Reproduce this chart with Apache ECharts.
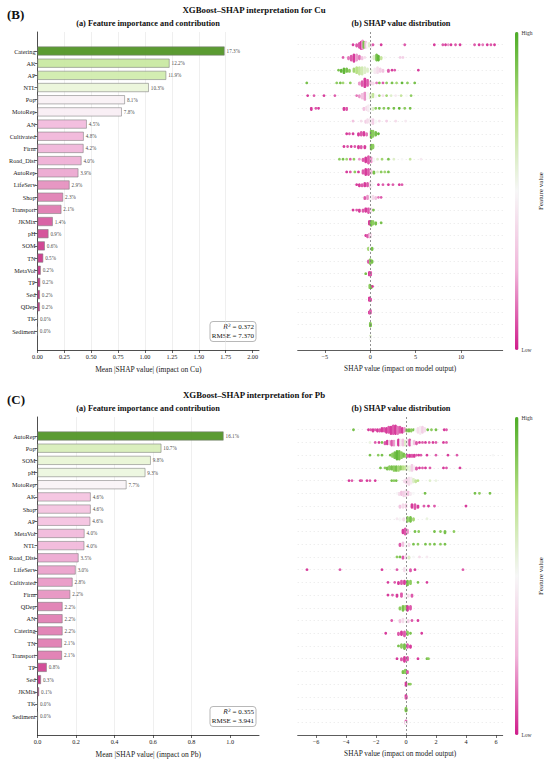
<!DOCTYPE html>
<html><head><meta charset="utf-8">
<script src="https://cdn.jsdelivr.net/npm/echarts@6/dist/echarts.min.js"></script>
<style>html,body{margin:0;padding:0;background:#fff}#c{width:550px;height:763px}</style>
</head><body><div id="c"></div>
<script>
// ---------------- DATA ----------------
const cuFeatures = ['Catering','AK','AP','NTL','Pop','MotoRep','AN','Cultivated','Firm','Road_Dist','AutoRep','LifeServ','Shop','Transport','JKMix','pH','SOM','TN','MetaVol','TP','Sed','QDep','TK','Sediment'];
const cuImportance = [1.74,1.228,1.197,1.035,0.813,0.784,0.458,0.43,0.428,0.409,0.38,0.298,0.238,0.222,0.142,0.102,0.068,0.053,0.03,0.025,0.022,0.022,0.002,0.001];
const cuPctLabels = ['17.3%','12.2%','11.9%','10.3%','8.1%','7.8%','4.5%','4.8%','4.2%','4.0%','3.9%','2.9%','2.3%','2.1%','1.4%','0.9%','0.6%','0.5%','0.2%','0.2%','0.2%','0.2%','0.0%','0.0%'];
const cuImpTicks = [0,0.25,0.5,0.75,1.0,1.25,1.5,1.75,2.0];
const cuShapTicks = [-5,0,5,10];
// per feature row: [SHAP value, normalised feature value, number of stacked dots]
const cuSwarmRows = [
 [[-1.9,0.05,1],[-1.5,0.1,2],[-1.2,0.1,4],[-1.0,0.05,6],[-0.85,0.2,7],[-0.7,0.9,5],[-0.5,0.3,5],[-0.3,0.5,4],[-0.1,0.6,3],[0.1,0.4,2],[0.3,0.1,1],[1.2,0.05,1],[3.8,0.1,1],[7.06,0.05,1],[8.0,0.1,1],[8.3,0.05,1],[8.6,0.2,1],[8.9,0.05,1],[9.4,0.1,1],[9.9,0.05,1],[11.5,0.1,1],[12.0,0.05,1],[12.4,0.15,1],[12.9,0.05,1],[13.3,0.1,1],[13.7,0.05,1]],
 [[-3.0,0.1,1],[-2.4,0.15,2],[-2.1,0.1,4],[-1.8,0.05,6],[-1.5,0.2,5],[-1.2,0.15,3],[-0.9,0.3,2],[-0.6,0.4,1],[0.1,0.5,2],[0.4,0.6,3],[0.7,0.9,5],[0.9,0.95,4],[1.2,0.7,2],[1.6,0.5,1],[3.3,0.35,1],[3.6,0.35,1]],
 [[-3.5,0.9,1],[-3.2,0.95,2],[-2.9,0.95,4],[-2.6,0.9,3],[-2.3,0.85,2],[-1.8,0.8,3],[-1.5,0.75,5],[-1.2,0.7,6],[-0.9,0.65,6],[-0.6,0.6,5],[-0.3,0.6,3],[0.1,0.55,2],[0.5,0.45,4],[0.8,0.4,5],[1.1,0.35,3],[1.4,0.3,2],[2.0,0.1,2],[2.4,0.05,1],[2.7,0.1,1],[5.3,0.05,1]],
 [[-7.0,0.9,1],[-3.7,0.85,1],[-3.3,0.9,1],[-3.0,0.8,1],[-2.2,0.85,1],[-1.2,0.2,2],[-0.9,0.1,4],[-0.6,0.05,7],[-0.3,0.1,5],[0.0,0.3,3],[0.3,0.4,2],[0.7,0.15,1],[1.0,0.9,1],[1.4,0.1,1],[1.8,0.85,1],[2.4,0.9,1],[2.9,0.8,1],[3.5,0.95,1],[4.1,0.85,1],[4.9,0.9,1]],
 [[-6.9,0.05,1],[-6.2,0.1,1],[-5.1,0.05,1],[-3.9,0.1,1],[-1.5,0.15,1],[-1.2,0.2,2],[-0.9,0.3,4],[-0.6,0.2,6],[-0.3,0.5,5],[0.0,0.6,4],[0.3,0.7,3],[0.6,0.5,2],[1.0,0.8,1],[1.4,0.4,1],[1.8,0.8,1],[2.3,0.6,1],[2.8,0.45,1],[3.4,0.7,1],[4.0,0.5,1],[4.5,0.85,1]],
 [[-6.5,0.05,2],[-6.0,0.1,1],[-5.7,0.05,1],[-2.9,0.05,2],[-2.6,0.1,2],[-0.7,0.3,2],[-0.4,0.4,3],[-0.2,0.45,5],[0.0,0.5,4],[0.3,0.6,2],[0.6,0.85,1],[1.0,0.9,1],[1.5,0.85,1],[2.0,0.9,1],[2.6,0.9,1],[3.2,0.95,1],[3.8,0.85,1],[4.4,0.9,1]],
 [[-1.9,0.3,1],[-1.0,0.4,1],[-0.5,0.35,2],[-0.3,0.4,3],[0.0,0.45,5],[0.3,0.35,4],[0.6,0.5,2],[1.0,0.4,1],[1.8,0.35,1],[2.8,0.4,1],[3.9,0.45,1]],
 [[-2.6,0.05,1],[-2.3,0.1,1],[-1.9,0.05,1],[-1.3,0.05,2],[-1.0,0.1,3],[-0.7,0.05,3],[-0.4,0.15,2],[0.1,0.9,6],[0.3,0.85,5],[0.6,0.9,3],[0.9,0.95,1]],
 [[-2.9,0.05,1],[-2.5,0.1,1],[-2.1,0.05,1],[-1.7,0.1,1],[-1.3,0.05,2],[-1.0,0.1,2],[-0.6,0.05,2],[0.1,0.9,4],[0.3,0.85,3]],
 [[-3.4,0.85,1],[-3.0,0.9,1],[-2.6,0.8,1],[-2.2,0.1,1],[-1.8,0.85,1],[-1.2,0.2,1],[-0.8,0.1,2],[-0.5,0.05,4],[-0.2,0.1,6],[0.1,0.2,4],[0.4,0.5,2],[0.8,0.6,1],[1.3,0.8,1],[2.0,0.9,1],[2.6,0.6,1],[3.5,0.5,1],[4.4,0.7,1],[5.6,0.45,1]],
 [[-2.6,0.05,1],[-2.2,0.1,1],[-1.7,0.85,1],[-1.3,0.05,1],[-0.8,0.1,3],[-0.5,0.05,5],[-0.2,0.1,5],[0.1,0.3,3],[0.4,0.9,2],[0.8,0.6,1],[1.2,0.85,1],[1.6,0.8,1],[2.0,0.9,1]],
 [[-1.5,0.05,1],[-1.2,0.05,2],[-0.9,0.1,2],[-0.6,0.05,3],[-0.3,0.1,3],[0.0,0.4,5],[0.2,0.5,3],[0.9,0.05,1],[1.4,0.1,1],[2.0,0.05,1],[2.5,0.1,1],[3.2,0.05,1],[3.5,0.1,1]],
 [[-0.6,0.1,2],[-0.3,0.2,3],[0.0,0.5,5],[0.3,0.4,3],[0.6,0.3,2],[0.9,0.15,1],[1.2,0.1,1]],
 [[-1.9,0.05,1],[-1.5,0.1,1],[-1.2,0.05,2],[-0.8,0.1,2],[-0.5,0.05,3],[-0.2,0.1,4],[0.1,0.4,3],[0.35,0.9,1]],
 [[-0.1,0.05,3],[0.1,0.9,4],[0.3,0.85,3],[0.6,0.9,2],[1.2,0.9,1]],
 [[-0.5,0.05,1],[-0.3,0.1,2],[-0.1,0.2,3],[0.05,0.4,3]],
 [[-0.2,0.8,2],[0.0,0.5,4],[0.2,0.9,2]],
 [[-0.2,0.1,2],[0.0,0.85,4],[0.2,0.9,2]],
 [[-0.5,0.9,1],[-0.1,0.05,3],[0.05,0.1,3]],
 [[-0.05,0.85,3],[0.1,0.9,2],[0.25,0.05,1]],
 [[-0.1,0.05,3],[0.05,0.1,2]],
 [[-0.1,0.05,2],[0.02,0.1,3]],
 [[0.0,0.85,3],[0.02,0.9,2]],
 [[0.0,0.6,3],[0.01,0.5,2]]
];

const pbFeatures = ['AutoRep','Pop','SOM','pH','MotoRep','AK','Shop','AP','MetaVol','NTL','Road_Dist','LifeServ','Cultivated','Firm','QDep','AN','Catering','TN','Transport','TP','Sed','JKMix','TK','Sediment'];
const pbImportance = [0.966,0.643,0.588,0.560,0.462,0.276,0.276,0.274,0.244,0.243,0.213,0.198,0.182,0.170,0.130,0.130,0.130,0.127,0.127,0.048,0.018,0.008,0.001,0.001];
const pbPctLabels = ['16.1%','10.7%','9.8%','9.3%','7.7%','4.6%','4.6%','4.6%','4.0%','4.0%','3.5%','3.0%','2.8%','2.2%','2.2%','2.2%','2.2%','2.1%','2.1%','0.8%','0.3%','0.1%','0.0%','0.0%'];
const pbImpTicks = [0,0.2,0.4,0.6,0.8,1.0];
const pbShapTicks = [-6,-4,-2,0,2,4,6];
const pbSwarmRows = [
 [[-3.5,0.9,1],[-2.5,0.05,1],[-2.35,0.1,1],[-2.2,0.05,2],[-2.05,0.1,1],[-1.9,0.05,2],[-1.75,0.1,2],[-1.6,0.05,3],[-1.45,0.1,3],[-1.3,0.05,4],[-1.15,0.1,5],[-1.0,0.05,6],[-0.85,0.1,7],[-0.7,0.05,7],[-0.55,0.15,6],[-0.4,0.1,5],[-0.25,0.05,4],[-0.1,0.2,3],[0.05,0.85,2],[0.2,0.9,2],[0.35,0.85,2],[0.5,0.9,1],[0.65,0.5,2],[0.8,0.4,4],[0.95,0.45,6],[1.1,0.35,5],[1.25,0.4,3],[1.45,0.9,1],[1.7,0.85,1],[2.0,0.9,1],[2.55,0.05,1],[2.7,0.1,1]],
 [[-2.4,0.55,1],[-2.05,0.1,1],[-1.8,0.05,1],[-1.6,0.9,1],[-1.4,0.1,2],[-1.25,0.05,3],[-1.1,0.3,3],[-0.95,0.1,4],[-0.8,0.2,4],[-0.65,0.5,4],[-0.5,0.05,5],[-0.35,0.45,5],[-0.2,0.3,5],[-0.05,0.6,4],[0.1,0.4,5],[0.25,0.1,5],[0.4,0.5,4],[0.55,0.3,3],[0.7,0.1,2],[0.9,0.05,1],[1.1,0.1,1],[1.3,0.05,1],[1.55,0.1,1],[1.8,0.05,1],[2.0,0.1,1],[2.5,0.05,1],[2.7,0.1,1]],
 [[-2.4,0.9,1],[-1.85,0.85,1],[-1.6,0.9,1],[-1.05,0.9,1],[-0.9,0.85,3],[-0.75,0.9,5],[-0.6,0.95,7],[-0.45,0.9,7],[-0.3,0.85,5],[-0.15,0.9,3],[0.0,0.8,2],[0.1,0.1,2],[0.25,0.05,2],[0.4,0.1,2],[0.55,0.05,2],[0.7,0.1,1],[0.85,0.05,1],[1.0,0.1,1],[1.4,0.05,1],[2.0,0.1,1],[2.8,0.05,1],[3.4,0.1,1],[5.8,0.5,1]],
 [[-1.7,0.9,1],[-1.4,0.85,1],[-1.25,0.9,2],[-1.1,0.85,3],[-0.95,0.9,3],[-0.8,0.85,4],[-0.65,0.9,4],[-0.5,0.8,4],[-0.35,0.85,3],[-0.2,0.75,3],[-0.05,0.7,3],[0.1,0.6,3],[0.25,0.55,4],[0.4,0.35,5],[0.55,0.45,3],[0.7,0.1,2],[0.9,0.05,1],[1.1,0.1,1],[1.3,0.05,1],[1.6,0.1,1],[2.5,0.05,1],[2.7,0.1,1],[3.6,0.05,1]],
 [[-3.8,0.05,1],[-3.6,0.1,1],[-3.05,0.05,1],[-2.95,0.1,1],[-2.6,0.05,1],[-2.4,0.1,1],[-2.05,0.05,1],[-0.95,0.9,1],[-0.8,0.85,1],[-0.65,0.9,1],[-0.1,0.4,2],[0.05,0.35,4],[0.2,0.4,6],[0.35,0.45,5],[0.5,0.6,3],[0.65,0.7,2],[0.8,0.75,1],[1.6,0.6,1],[2.0,0.55,1]],
 [[-0.6,0.5,1],[-0.45,0.4,2],[-0.3,0.3,3],[-0.15,0.35,4],[0.0,0.4,5],[0.15,0.3,3],[0.3,0.45,2],[0.5,0.5,1],[1.27,0.9,1],[4.6,0.9,1],[4.9,0.85,1],[5.6,0.9,1]],
 [[-0.4,0.3,2],[-0.2,0.4,3],[0.0,0.35,3],[0.4,0.05,3],[0.6,0.1,4],[0.8,0.05,2],[1.2,0.1,1],[1.5,0.05,1],[1.9,0.1,1],[4.0,0.05,1]],
 [[-0.6,0.45,1],[-0.4,0.5,2],[-0.15,0.4,2],[0.1,0.85,4],[0.3,0.9,4],[0.5,0.8,2],[1.4,0.55,1]],
 [[-0.2,0.05,3],[-0.05,0.1,5],[0.1,0.2,3],[0.6,0.9,1],[0.85,0.85,1],[1.9,0.9,1],[2.3,0.85,1],[2.6,0.9,2],[3.2,0.85,1]],
 [[-0.4,0.1,2],[-0.2,0.3,3],[0.0,0.5,4],[0.2,0.4,2],[0.5,0.9,1],[0.8,0.85,1],[1.3,0.9,1],[1.6,0.85,1],[1.9,0.9,1],[2.3,0.85,1],[2.6,0.9,1]],
 [[-0.6,0.85,1],[-0.4,0.9,1],[-0.2,0.1,2],[0.0,0.4,3],[0.2,0.6,2],[0.5,0.5,1],[0.9,0.4,1],[1.4,0.45,1]],
 [[-6.6,0.05,1],[-4.4,0.1,1],[-1.6,0.05,1],[-0.6,0.1,1],[-0.1,0.4,3],[0.05,0.5,4],[0.3,0.1,2],[0.6,0.05,1],[3.8,0.1,1]],
 [[-1.2,0.05,1],[-0.75,0.1,1],[-0.5,0.05,2],[-0.3,0.1,3],[-0.1,0.05,3],[0.1,0.9,4],[0.3,0.85,3],[0.8,0.9,1],[1.4,0.05,1]],
 [[-1.2,0.05,1],[-0.9,0.1,1],[-0.6,0.05,2],[-0.3,0.1,3],[-0.05,0.5,4],[0.15,0.4,2],[0.4,0.1,2]],
 [[-0.4,0.85,2],[-0.2,0.9,4],[-0.05,0.8,3],[0.1,0.05,4],[0.3,0.1,3]],
 [[-0.95,0.1,1],[-0.4,0.3,2],[-0.2,0.4,3],[0.0,0.5,3],[0.15,0.35,2],[0.4,0.1,1],[0.8,0.05,1]],
 [[-1.35,0.05,1],[-0.5,0.1,2],[-0.3,0.05,3],[-0.1,0.1,4],[0.1,0.85,3],[0.3,0.9,1],[1.05,0.05,1]],
 [[-0.5,0.9,1],[-0.3,0.85,3],[-0.1,0.9,4],[0.1,0.1,3],[0.3,0.05,2]],
 [[-0.6,0.05,1],[-0.3,0.1,2],[-0.1,0.05,4],[0.1,0.1,3],[0.8,0.05,1],[1.4,0.9,1],[1.5,0.85,1]],
 [[-0.2,0.9,2],[-0.05,0.85,3],[0.1,0.1,2]],
 [[0.0,0.05,3],[0.2,0.9,1],[0.3,0.85,1]],
 [[0.0,0.05,3],[0.02,0.1,2]],
 [[0.0,0.85,3],[0.01,0.9,2]],
 [[0.0,0.1,3],[0.01,0.5,2]]
];

// ---------------- STYLE / HELPERS ----------------
const SERIF = 'Liberation Serif';
const PIYG = ['#8e0152','#c51b7d','#de77ae','#f1b6da','#fde0ef','#f7f7f7','#e6f5d0','#b8e186','#7fbc41','#4d9221','#276419'];
function hex(c){return [1,3,5].map(i=>parseInt(c.substr(i,2),16));}
function piyg(t){t=Math.max(0,Math.min(1,t));const p=t*10;const i=Math.min(9,Math.floor(p));const f=p-i;const a=hex(PIYG[i]),b=hex(PIYG[i+1]);
  return 'rgb('+a.map((v,k)=>Math.round(v+(b[k]-v)*f)).join(',')+')';}
const DY = 0.1;
function swarm(rows){const out=[];rows.forEach((entries,r)=>{entries.forEach(([x,fv,c])=>{for(let k=0;k<c;k++){const lvl=Math.ceil(k/2);const s=(k%2===1)?1:-1;out.push([x,r+s*lvl*DY,fv]);}});});return out;}
const minus = v => v<0 ? '\u2212'+Math.abs(v) : String(v);
const SWARM_COLORS = ['#d01c8b','#f1b6da','#f7f7f7','#b8e186','#4dac26'];

const OFF = 385; // vertical offset of second panel
const L = {impLeft:37.5, impW:221.5, frameTop:32, frameH:318, rowTop:51, rowStep:12.18, shapLeft:297.7, shapW:205};

function panel(k, off, feats, imp, pct, impTicks, impMax, impFmt, impName, rows, shapMin, shapMax, shapTicks){
  const g = k*3;
  const grids = [
    {left:L.impLeft, top:L.frameTop+off, width:L.impW, height:L.frameH},
    {left:L.impLeft, top:L.rowTop-L.rowStep/2+off, width:L.impW, height:L.rowStep*feats.length},
    {left:L.shapLeft, top:L.frameTop+off, width:L.shapW, height:L.frameH}
  ];
  const axLine = {show:true, onZero:false, lineStyle:{color:'#222', width:0.8}};
  const xAxes = [
    {gridIndex:g, type:'value', position:'bottom', min:0, max:impMax, interval:impTicks[1]-impTicks[0],
     axisLine:axLine, axisTick:{show:true, length:3, customValues:impTicks, lineStyle:{color:'#222',width:0.7}},
     axisLabel:{show:true, customValues:impTicks, formatter:impFmt, fontFamily:SERIF, fontSize:6.2, color:'#222', margin:3},
     splitLine:{show:true, showMinLine:false, showMaxLine:false, lineStyle:{color:'#e4e4e4', width:0.6}},
     name:impName, nameLocation:'middle', nameGap:15, nameTextStyle:{fontFamily:SERIF, fontSize:7.5, color:'#222'}},
    {gridIndex:g+1, type:'value', min:0, max:impMax, show:false},
    {gridIndex:g+2, type:'value', position:'bottom', min:shapMin, max:shapMax,
     axisLine:{show:true, onZero:false, lineStyle:{color:'#333', width:0.8}},
     axisTick:{show:true, length:3, customValues:shapTicks, lineStyle:{color:'#333',width:0.7}},
     axisLabel:{show:true, customValues:shapTicks, formatter:minus, fontFamily:SERIF, fontSize:6.2, color:'#222', margin:3},
     splitLine:{show:false},
     name:'SHAP value (impact on model output)', nameLocation:'middle', nameGap:15, nameTextStyle:{fontFamily:SERIF, fontSize:7.3, color:'#222'}}
  ];
  const yAxes = [
    {gridIndex:g, type:'value', min:0, max:1, axisLine:axLine, axisTick:{show:false}, axisLabel:{show:false}, splitLine:{show:false}},
    {gridIndex:g+1, type:'category', data:feats, inverse:true, axisLine:{show:false, onZero:false},
     axisTick:{show:true, alignWithLabel:true, length:3, lineStyle:{color:'#222', width:0.7}},
     axisLabel:{fontFamily:SERIF, fontSize:6.2, color:'#222', margin:2}},
    {gridIndex:g+2, type:'value', min:-1, max:feats.length, inverse:true, interval:1,
     axisLine:{show:false, onZero:false}, axisTick:{show:false}, axisLabel:{show:false},
     splitLine:{show:true, showMinLine:false, showMaxLine:false, lineStyle:{color:'#cfcfcf', width:0.5, type:[1,3]}}}
  ];
  const maxImp = Math.max(...imp);
  const series = [
    {type:'bar', xAxisIndex:g+1, yAxisIndex:g+1, barWidth:9,
     data: imp.map(v=>({value:v, itemStyle:{color:piyg(0.1+0.8*v/maxImp)}})),
     itemStyle:{borderColor:'#7a7a7a', borderWidth:0.6, opacity:0.92},
     label:{show:true, position:'right', distance:2, formatter:p=>pct[p.dataIndex], fontFamily:SERIF, fontSize:5.2, color:'#333'},
     silent:true, animation:false},
    {type:'scatter', xAxisIndex:g+2, yAxisIndex:g+2, symbolSize:2.8, data:swarm(rows),
     itemStyle:{opacity:1}, silent:true, animation:false,
     markLine:{silent:true, symbol:'none', animation:false, label:{show:false},
       lineStyle:{color:'#777', type:[2,2], width:0.8}, data:[{xAxis:0}]}}
  ];
  const visualMap = {type:'continuous', seriesIndex:k*2+1, dimension:2, min:0, max:1,
    inRange:{color:SWARM_COLORS}, orient:'vertical', left:515, top:L.frameTop+off, itemWidth:3.5, itemHeight:L.frameH,
    calculable:false, hoverLink:false, padding:0, text:null, showLabel:false};
  return {grids, xAxes, yAxes, series, visualMap};
}

const pCu = panel(0, 0, cuFeatures, cuImportance, cuPctLabels, cuImpTicks, 2.06, v=>v.toFixed(2), 'Mean |SHAP value| (impact on Cu)', cuSwarmRows, -8, 14.6, cuShapTicks);
const pPb = panel(1, OFF, pbFeatures, pbImportance, pbPctLabels, pbImpTicks, 1.15, v=>v.toFixed(1), 'Mean |SHAP value| (impact on Pb)', pbSwarmRows, -7.22, 6.45, pbShapTicks);

function txt(x,y,text,font,align,extra,fill){return Object.assign({type:'text', x:x, y:y, silent:true, style:{text:text, x:0, y:0, font:font, fill:fill||'#111', align:align||'center', verticalAlign:'middle'}}, extra||{});}
function headings(off, letter, metal, r2, rmse){
  return [
    txt(7, 14+off, letter, 'bold 13px "'+SERIF+'"', 'left'),
    txt(254, 10+off, 'XGBoost\u2013SHAP interpretation for '+metal, 'bold 8.8px "'+SERIF+'"'),
    txt(148, 23+off, '(a) Feature importance and contribution', 'bold 8.3px "'+SERIF+'"'),
    txt(401, 23+off, '(b) SHAP value distribution', 'bold 8.3px "'+SERIF+'"'),
    txt(521.5, 33+off, 'High', '5.5px "'+SERIF+'"', 'left', null, '#333'),
    txt(521.5, 350+off, 'Low', '5.5px "'+SERIF+'"', 'left', null, '#333'),
    txt(541, 191+off, 'Feature value', '7px "'+SERIF+'"', 'center', {rotation:Math.PI/2}, '#222'),
    {type:'rect', silent:true, shape:{x:210, y:321.5+off, width:46, height:20, r:3}, style:{fill:'#fff', stroke:'#999', lineWidth:0.7}},
    {type:'text', silent:true, x:254, y:327+off, style:{text:'{i|R}{s|2} = '+r2, x:0, y:0, align:'right', verticalAlign:'middle', font:'7px "'+SERIF+'"', fill:'#111',
      rich:{i:{fontStyle:'italic', fontFamily:'DejaVu Sans', fontSize:6.5, fill:'#111'}, s:{fontFamily:'DejaVu Sans', fontSize:4.5, fill:'#111', padding:[0,0,4,0]}}}},
    txt(254, 335.8+off, 'RMSE = '+rmse, '7px "'+SERIF+'"', 'right')
  ];
}

const option = {
  backgroundColor:'#fff',
  animation:false,
  grid: [...pCu.grids, ...pPb.grids],
  xAxis: [...pCu.xAxes, ...pPb.xAxes],
  yAxis: [...pCu.yAxes, ...pPb.yAxes],
  series: [...pCu.series, ...pPb.series],
  visualMap: [pCu.visualMap, pPb.visualMap],
  graphic: [...headings(0,'(B)','Cu','0.372','7.370'), ...headings(OFF,'(C)','Pb','0.355','3.941')]
};
const chart = echarts.init(document.getElementById('c'), null, {renderer:'svg', width:550, height:763});
chart.setOption(option);
</script></body></html>
